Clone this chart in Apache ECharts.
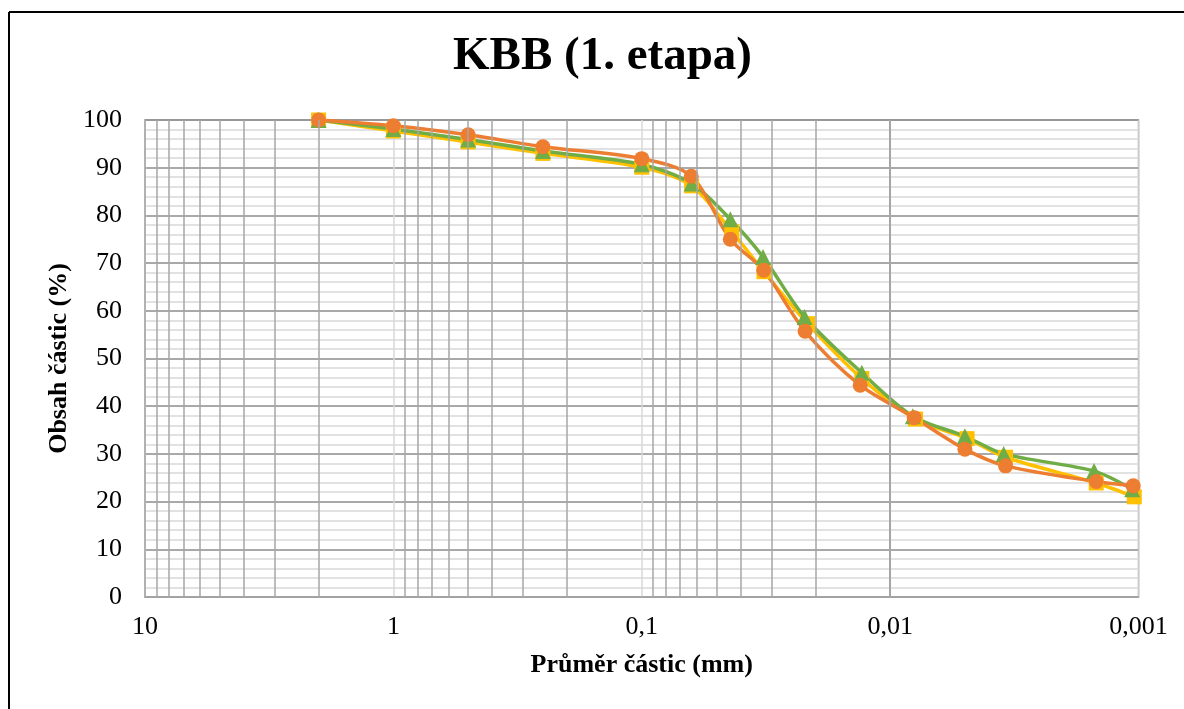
<!DOCTYPE html>
<html>
<head>
<meta charset="utf-8">
<script src="https://cdn.jsdelivr.net/npm/echarts@6/dist/echarts.min.js"></script>
<style>
  html, body { margin: 0; padding: 0; background: #fff; }
  #chart { width: 1184px; height: 709px; }
</style>
</head>
<body>
<div id="chart"></div>
<script>
// grain size curves, x = particle diameter (mm), y = passing (%)
const sizesYellow = [2, 1, 0.5, 0.25, 0.1, 0.063, 0.0434, 0.0322, 0.0215, 0.013, 0.0079, 0.0049, 0.00343, 0.00148, 0.00104]
const passYellow = [100, 97.7, 95.4, 93.0, 90.1, 86.2, 76.6, 68.2, 57.3, 45.8, 37.3, 33.2, 29.3, 23.9, 21.0]

const sizesGreen = [2, 1, 0.5, 0.25, 0.1, 0.063, 0.044, 0.0325, 0.0221, 0.013, 0.0081, 0.005, 0.00349, 0.00151, 0.00106]
const passGreen = [100, 98.1, 95.9, 93.5, 90.7, 86.7, 79.2, 71.3, 58.7, 47.0, 37.9, 33.7, 30.0, 26.4, 22.6]

const sizesOrange = [2, 1, 0.5, 0.25, 0.1, 0.0632, 0.044, 0.0323, 0.022, 0.0132, 0.008, 0.005, 0.00343, 0.00148, 0.00105]
const passOrange = [100, 98.8, 96.9, 94.4, 91.9, 88.2, 75.0, 68.5, 55.7, 44.4, 37.6, 31.0, 27.5, 24.2, 23.3]

// log grid helpers: 2..9 inside each decade
const decades = [0.001, 0.01, 0.1, 1]
const minorSteps = [2, 3, 4, 5, 6, 7, 8, 9]
const minorGrid = []
decades.forEach(d => minorSteps.forEach(m => minorGrid.push(Number((d * m).toPrecision(6)))))

const serif = "'Liberation Serif', 'DejaVu Serif', serif"
const fmtComma = v => String(Number(Number(v).toPrecision(6))).replace(".", ",")
const pairs = (xs, ys) => xs.map((x, i) => [x, ys[i]])

const chart = echarts.init(document.getElementById("chart"))

const curve = (name, color, symbol, size, xs, ys) => ({
  name,
  type: "line",
  smooth: 0.3,
  z: 3,
  data: pairs(xs, ys),
  symbol,
  symbolSize: size,
  lineStyle: {color, width: 3.5},
  itemStyle: {color},
})

chart.setOption({
  animation: false,
  backgroundColor: "#fff",
  title: {
    text: "KBB (1. etapa)",
    left: 453,
    top: 33,
    padding: 0,
    textStyle: {fontFamily: serif, fontWeight: "bold", fontSize: 47, color: "#000"},
  },
  graphic: [
    {type: "line", shape: {x1: 9, y1: 12, x2: 1184, y2: 12}, style: {stroke: "#000", lineWidth: 2}},
    {type: "line", shape: {x1: 9, y1: 12, x2: 9, y2: 709}, style: {stroke: "#000", lineWidth: 2}},
  ],
  grid: {
    left: 145, right: 45.5, top: 120, bottom: 112,
    show: true, borderColor: "#a6a6a6", borderWidth: 1.5, backgroundColor: "transparent",
  },
  xAxis: {
    type: "log",
    logBase: 10,
    min: 0.001,
    max: 10,
    inverse: true,
    name: "Průměr částic (mm)",
    nameLocation: "middle",
    nameGap: 55,
    nameTextStyle: {fontFamily: serif, fontWeight: "bold", fontSize: 26, color: "#000"},
    axisLine: {show: true, lineStyle: {color: "#a6a6a6", width: 1.5}},
    axisTick: {show: false},
    axisLabel: {fontFamily: serif, fontSize: 26, color: "#000", margin: 17, formatter: fmtComma},
    splitLine: {show: true, lineStyle: {color: "#d9d9d9", width: 1.5}},
  },
  yAxis: {
    type: "value",
    min: 0,
    max: 100,
    interval: 10,
    name: "Obsah částic (%)",
    nameLocation: "middle",
    nameGap: 70,
    nameTextStyle: {fontFamily: serif, fontWeight: "bold", fontSize: 26, color: "#000"},
    axisLine: {show: true, lineStyle: {color: "#a6a6a6", width: 1.5}},
    axisTick: {show: false},
    axisLabel: {fontFamily: serif, fontSize: 26, color: "#000", margin: 23},
    splitLine: {show: true, lineStyle: {color: "#8c8c8c", width: 1.5}},
    minorTick: {show: false, splitNumber: 5},
    minorSplitLine: {show: true, lineStyle: {color: "#d9d9d9", width: 1.5}},
  },
  series: [
    {
      type: "line",
      z: 1,
      data: [],
      silent: true,
      markLine: {
        silent: true,
        symbol: "none",
        animation: false,
        label: {show: false},
        lineStyle: {color: "#a6a6a6", width: 1.5, type: "solid"},
        data: minorGrid.map(v => ({xAxis: v})),
      },
    },
    curve("yellow", "#FFC000", "rect", 15, sizesYellow, passYellow),
    curve("green", "#70AD47", "triangle", 16, sizesGreen, passGreen),
    curve("orange", "#ED7D31", "circle", 15, sizesOrange, passOrange),
  ],
})
</script>
</body>
</html>
